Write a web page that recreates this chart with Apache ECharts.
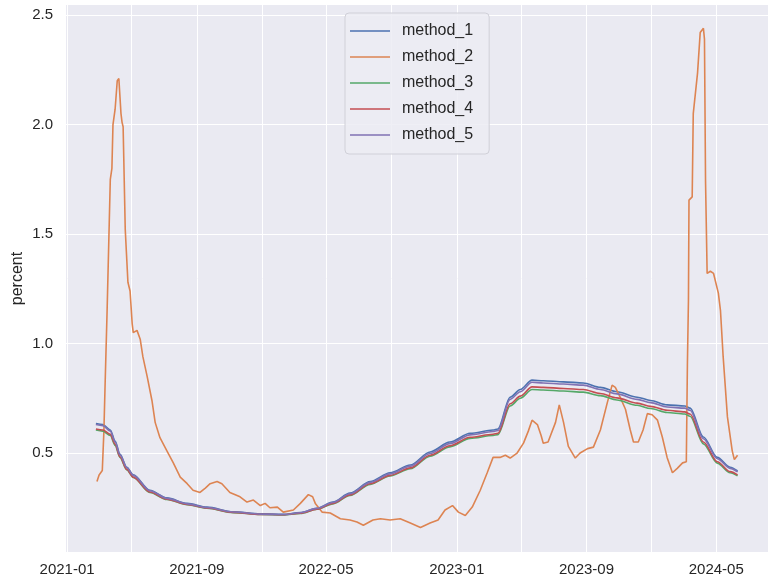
<!DOCTYPE html>
<html>
<head>
<meta charset="utf-8">
<script src="https://cdn.jsdelivr.net/npm/echarts@6/dist/echarts.min.js"></script>
<style>
  html, body { margin: 0; padding: 0; background: #ffffff; }
  #chart { width: 772px; height: 586px; }
</style>
</head>
<body>
<div id="chart"></div>
<script>
const seriesNames = ["method_1", "method_2", "method_3", "method_4", "method_5"];

// dates shared by the four smooth methods
const smoothDates = [
  "2021-02-24", "2021-03-09", "2021-03-23", "2021-04-01", "2021-04-10", "2021-04-23", "2021-05-05",
  "2021-06-05", "2021-07-07", "2021-08-14", "2021-09-20", "2021-11-08", "2021-12-29", "2022-02-10",
  "2022-03-14", "2022-04-14", "2022-05-14", "2022-06-15", "2022-07-23", "2022-08-29", "2022-10-06",
  "2022-11-12", "2022-12-19", "2023-01-26", "2023-03-10", "2023-03-19", "2023-04-11", "2023-04-30",
  "2023-05-22", "2023-06-12", "2023-07-20", "2023-08-26", "2023-09-27", "2023-10-28", "2023-12-05",
  "2023-12-30", "2024-01-30", "2024-03-03", "2024-03-13", "2024-04-07", "2024-05-03", "2024-05-27",
  "2024-06-10"
];
const method1 = [
  0.635, 0.63, 0.605, 0.555, 0.495, 0.435, 0.40, 0.33, 0.295, 0.27, 0.253, 0.232, 0.222, 0.22,
  0.228, 0.248, 0.276, 0.317, 0.37, 0.41, 0.445, 0.505, 0.55, 0.59, 0.605, 0.61, 0.755, 0.79,
  0.833, 0.83, 0.825, 0.82, 0.80, 0.78, 0.755, 0.74, 0.72, 0.715, 0.705, 0.573, 0.48, 0.435, 0.418
];
const method3 = [
  0.605, 0.60, 0.58, 0.535, 0.48, 0.423, 0.388, 0.32, 0.288, 0.264, 0.248, 0.228, 0.219, 0.217,
  0.224, 0.243, 0.268, 0.306, 0.357, 0.395, 0.428, 0.486, 0.528, 0.567, 0.58, 0.584, 0.715, 0.75,
  0.79, 0.788, 0.783, 0.778, 0.762, 0.742, 0.718, 0.703, 0.685, 0.678, 0.668, 0.542, 0.454, 0.41, 0.396
];
const method4 = [
  0.61, 0.605, 0.585, 0.54, 0.483, 0.425, 0.39, 0.322, 0.289, 0.265, 0.249, 0.229, 0.22, 0.218,
  0.225, 0.244, 0.27, 0.309, 0.36, 0.398, 0.432, 0.49, 0.533, 0.572, 0.586, 0.59, 0.725, 0.76,
  0.802, 0.80, 0.795, 0.79, 0.772, 0.752, 0.728, 0.713, 0.695, 0.688, 0.678, 0.55, 0.46, 0.415, 0.40
];
const method5 = [
  0.63, 0.625, 0.60, 0.55, 0.492, 0.433, 0.398, 0.328, 0.293, 0.268, 0.251, 0.231, 0.221, 0.219,
  0.227, 0.247, 0.274, 0.314, 0.366, 0.405, 0.44, 0.498, 0.543, 0.583, 0.598, 0.603, 0.745, 0.78,
  0.823, 0.82, 0.815, 0.81, 0.79, 0.77, 0.745, 0.73, 0.71, 0.705, 0.695, 0.565, 0.474, 0.43, 0.414
];

// method_2 is noisy, it gets its own dates
const method2Dates = [
  "2021-02-26", "2021-03-02", "2021-03-08", "2021-03-11", "2021-03-13", "2021-03-17", "2021-03-21",
  "2021-03-23", "2021-03-26", "2021-03-28", "2021-04-01", "2021-04-05", "2021-04-08", "2021-04-12",
  "2021-04-14", "2021-04-16", "2021-04-20", "2021-04-25", "2021-04-29", "2021-05-03", "2021-05-05",
  "2021-05-12", "2021-05-18", "2021-05-23", "2021-05-31", "2021-06-09", "2021-06-15", "2021-06-24",
  "2021-07-07", "2021-07-19", "2021-08-01", "2021-08-14", "2021-08-25", "2021-09-07", "2021-09-17",
  "2021-09-26", "2021-10-09", "2021-10-18", "2021-11-02", "2021-11-21", "2021-12-04", "2021-12-16",
  "2021-12-29", "2022-01-07", "2022-01-16", "2022-01-30", "2022-02-10", "2022-03-01", "2022-03-14",
  "2022-03-29", "2022-04-06", "2022-04-11", "2022-04-24", "2022-05-09", "2022-05-28", "2022-06-15",
  "2022-06-28", "2022-07-10", "2022-07-28", "2022-08-11", "2022-08-29", "2022-09-17", "2022-10-06",
  "2022-10-25", "2022-11-12", "2022-11-27", "2022-12-10", "2022-12-24", "2023-01-04", "2023-01-17",
  "2023-01-30", "2023-02-14", "2023-02-27", "2023-03-10", "2023-03-23", "2023-04-02", "2023-04-11",
  "2023-04-24", "2023-05-06", "2023-05-15", "2023-05-22", "2023-06-01", "2023-06-08", "2023-06-12",
  "2023-06-21", "2023-07-05", "2023-07-12", "2023-07-20", "2023-07-29", "2023-08-11", "2023-08-20",
  "2023-09-03", "2023-09-14", "2023-09-27", "2023-10-10", "2023-10-19", "2023-10-25", "2023-11-03",
  "2023-11-13", "2023-11-22", "2023-11-28", "2023-12-07", "2023-12-16", "2023-12-24", "2024-01-02",
  "2024-01-12", "2024-01-21", "2024-01-30", "2024-02-09", "2024-02-18", "2024-02-28", "2024-03-06",
  "2024-03-08", "2024-03-10", "2024-03-11", "2024-03-17", "2024-03-19", "2024-03-27", "2024-04-01",
  "2024-04-07", "2024-04-09", "2024-04-11", "2024-04-14", "2024-04-20", "2024-04-26", "2024-05-05",
  "2024-05-09", "2024-05-14", "2024-05-22", "2024-05-31", "2024-06-04", "2024-06-10"
];
const method2 = [
  0.37, 0.40, 0.42, 0.60, 0.79, 1.15, 1.55,
  1.75, 1.80, 2.00, 2.07, 2.20, 2.21, 2.05,
  2.01, 1.99, 1.52, 1.28, 1.24, 1.09, 1.05,
  1.06, 1.02, 0.94, 0.85, 0.74, 0.64, 0.57,
  0.51, 0.455, 0.39, 0.36, 0.33, 0.32, 0.34,
  0.36, 0.37, 0.36, 0.32, 0.30, 0.276, 0.285,
  0.26, 0.27, 0.25, 0.253, 0.23, 0.24, 0.27,
  0.31, 0.30, 0.27, 0.23, 0.226, 0.20, 0.194,
  0.185, 0.17, 0.194, 0.20, 0.194, 0.20, 0.18,
  0.16, 0.18, 0.194, 0.24, 0.26, 0.23, 0.215,
  0.253, 0.33, 0.41, 0.48, 0.48, 0.49, 0.477,
  0.50, 0.545, 0.60, 0.65, 0.63, 0.58, 0.545,
  0.55, 0.64, 0.72, 0.64, 0.53, 0.477, 0.50,
  0.52, 0.527, 0.605, 0.73, 0.81, 0.80, 0.755,
  0.70, 0.605, 0.55, 0.55, 0.605, 0.68, 0.675,
  0.65, 0.573, 0.48, 0.41, 0.43, 0.455, 0.46,
  0.90, 1.20, 1.655, 1.67, 2.05, 2.235, 2.42,
  2.44, 2.39, 1.74, 1.32, 1.33, 1.32, 1.23,
  1.15, 0.94, 0.665, 0.51, 0.47, 0.49
];

const gridTicks = ["2021-01-01", "2021-05-01", "2021-09-01", "2022-01-01", "2022-05-01", "2022-09-01",
  "2023-01-01", "2023-05-01", "2023-09-01", "2024-01-01", "2024-05-01"];
const labelTicks = ["2021-01-01", "2021-09-01", "2022-05-01", "2023-01-01", "2023-09-01", "2024-05-01"];
const yTicks = [0.5, 1.0, 1.5, 2.0, 2.5];

const colors = ["#4C72B0", "#DD8452", "#55A868", "#C44E52", "#8172B3"];
const ts = (d) => new Date(d).getTime();
const pairs = (dates, vals) => dates.map((d, i) => [ts(d), vals[i]]);

const seriesData = [
  pairs(smoothDates, method1),
  pairs(method2Dates, method2),
  pairs(smoothDates, method3),
  pairs(smoothDates, method4),
  pairs(smoothDates, method5)
];

const font = "'Liberation Sans', Arial, sans-serif";
const chart = echarts.init(document.getElementById("chart"), null, { renderer: "canvas" });

chart.setOption({
  animation: false,
  color: colors,
  backgroundColor: "#ffffff",
  grid: { left: 66, right: 4, top: 5, bottom: 34, show: true, backgroundColor: "#EAEAF2", borderWidth: 0 },
  legend: {
    orient: "vertical",
    left: 345,
    top: 13,
    data: seriesNames,
    icon: "path://M0,0H40V1.6H0Z",
    itemWidth: 40,
    itemHeight: 14,
    itemGap: 10,
    padding: [10, 16, 11, 5],
    backgroundColor: "rgba(236,236,243,0.85)",
    borderColor: "#d0d0d8",
    borderWidth: 1,
    borderRadius: 4,
    textStyle: { fontFamily: font, fontSize: 16, color: "#262626", padding: [0, 0, 0, 7] }
  },
  xAxis: {
    type: "value",
    min: ts("2020-12-30"),
    max: ts("2024-08-06"),
    axisLine: { show: false },
    axisTick: { show: false, customValues: gridTicks.map(ts) },
    splitLine: { show: true, lineStyle: { color: "#ffffff", width: 1 } },
    axisLabel: {
      customValues: labelTicks.map(ts),
      margin: 10,
      fontFamily: font,
      fontSize: 15,
      color: "#262626",
      formatter: (v) => {
        const d = new Date(v);
        return d.getUTCFullYear() + "-" + String(d.getUTCMonth() + 1).padStart(2, "0");
      }
    }
  },
  yAxis: {
    type: "value",
    min: 0.048,
    max: 2.546,
    name: "percent",
    nameLocation: "middle",
    nameGap: 40,
    nameMoveOverlap: false,
    nameTextStyle: { fontFamily: font, fontSize: 16, color: "#262626" },
    axisLine: { show: false },
    axisTick: { show: false, customValues: yTicks },
    splitLine: { show: true, lineStyle: { color: "#ffffff", width: 1 } },
    axisLabel: {
      customValues: yTicks,
      margin: 13,
      fontFamily: font,
      fontSize: 15,
      color: "#262626",
      formatter: (v) => v.toFixed(1)
    }
  },
  series: seriesNames.map((name, i) => ({
    name: name,
    type: "line",
    data: seriesData[i],
    symbol: "none",
    smooth: i === 1 ? false : 0.3,
    smoothMonotone: "x",
    lineStyle: { width: 1.6, color: colors[i] },
    itemStyle: { color: colors[i] }
  }))
});
</script>
</body>
</html>
